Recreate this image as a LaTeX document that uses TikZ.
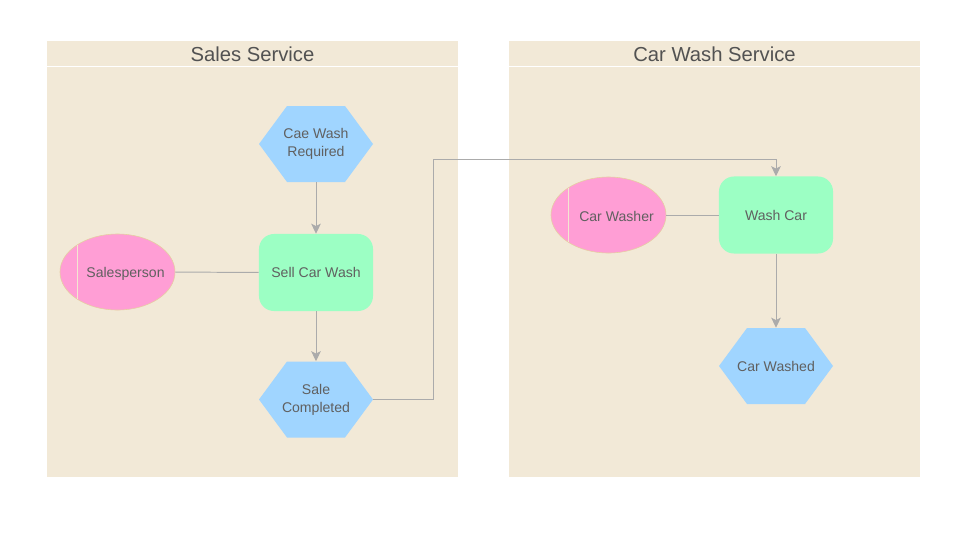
\documentclass[tikz,border=0pt]{standalone}
\usepackage{fontspec}
\setmainfont{Liberation Sans}
\usetikzlibrary{shapes.geometric,arrows.meta}
\definecolor{lane}{HTML}{F2E9D7}
\definecolor{hexblue}{HTML}{A0D5FF}
\definecolor{actgreen}{HTML}{9CFFC4}
\definecolor{rolepink}{HTML}{FF9ED5}
\definecolor{roleedge}{HTML}{E6CFA0}
\definecolor{txtgray}{HTML}{606060}
\definecolor{linegray}{HTML}{ABABAB}
% blue event hexagon, text node goes on top
\newcommand\hexfill[1]{\fill[hexblue] (#1) +(-57,0) -- +(-29,-38) -- +(29,-38) -- +(57,0) -- +(29,38) -- +(-29,38) -- cycle;}
\begin{document}
\begin{tikzpicture}[x=0.025cm,y=-0.025cm,
	font=\fontsize{10}{12.8}\selectfont,text=txtgray,
	title/.style={font=\fontsize{14.4}{16}\selectfont,text=txtgray!85!black},
	evt/.style={minimum width=2.85cm,minimum height=1.9cm,inner sep=0,align=center},
	act/.style={fill=actgreen,rounded corners=0.375cm,minimum width=2.85cm,minimum height=1.925cm,inner sep=0},
	role/.style={ellipse,fill=rolepink,draw=roleedge,line width=0.4pt,minimum width=2.875cm,minimum height=1.9cm,inner sep=0},
	link/.style={draw=linegray,line width=0.7pt},
	flow/.style={link,-{Stealth[length=2.5mm,width=2.4mm,inset=0.6mm]}}]
	\useasboundingbox (0,0) rectangle (972,547);
	% lanes
	\fill[lane] (47,41) rectangle (458,477);
	\fill[lane] (509,41) rectangle (920,477);
	\draw[white,line width=0.7pt] (47,66) -- (458,66);
	\draw[white,line width=0.7pt] (509,66) -- (920,66);
	\node[title] (sales) at (252.5,54) {Sales Service};
	\node[title] (carwash) at (714.5,54) {Car Wash Service};
	% sales lane
	\hexfill{316,144}
	\node[evt] (req) at (316,144) {Cae Wash\\Required};
	\node[act] (sell) at (316,272.5) {Sell Car Wash};
	\node[role,label={[shift={(0.2cm,-0.05cm)}]center:Salesperson}] (sp) at (117.5,272) {};
	\draw[roleedge!50!white,line width=0.7pt] ([shift={(-40,-27)}]sp.center) -- ([shift={(-40,27)}]sp.center);
	\hexfill{316,399.5}
	\node[evt] (done) at (316,399.5) {Sale\\Completed};
	% car wash lane
	\node[act] (wash) at (776,215) {Wash Car};
	\node[role,label={[shift={(0.2cm,-0.03cm)}]center:Car Washer}] (cw) at (608.5,215) {};
	\draw[roleedge!50!white,line width=0.7pt] ([shift={(-40,-27)}]cw.center) -- ([shift={(-40,27)}]cw.center);
	\hexfill{776,366}
	\node[evt] (washed) at (776,366) {Car Washed};
	% connectors
	\draw[link] (sp) -- (sell);
	\draw[link] (cw) -- (wash);
	\draw[flow] (req) -- (sell);
	\draw[flow] (sell) -- (done);
	\draw[flow] (wash) -- (washed);
	\coordinate (bend) at (433,159);
	\draw[flow] (done.east) -| (bend) -| (wash.north);
\end{tikzpicture}
\end{document}
